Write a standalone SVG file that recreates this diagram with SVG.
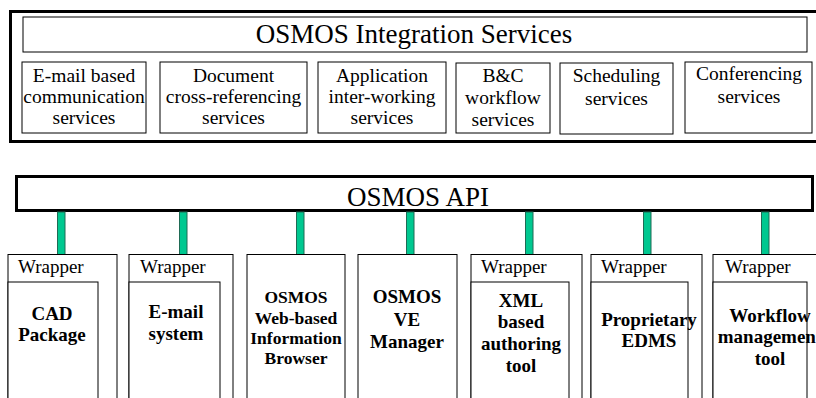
<svg xmlns="http://www.w3.org/2000/svg" width="816" height="398" viewBox="0 0 816 398">
<style>
.thick{fill:#fff;stroke:#000;stroke-width:3}
.box{fill:#fff;stroke:#000;stroke-width:1}
text{font-family:"Liberation Serif",Tinos,"Times New Roman",Times,"Nimbus Roman","Nimbus Roman No9 L",FreeSerif,"DejaVu Serif","Noto Serif",Georgia,serif;fill:#000}
.t{text-anchor:middle}
.s{font-size:19.5px}
.big{font-size:27px}
.w{font-size:19px}
.b{font-weight:bold;font-size:19px}
.conn{fill:#00c890;stroke:#1f6b55;stroke-width:1}
</style>
<rect width="816" height="398" fill="#fff"/>
<g id="integration-services">
<rect class="thick" x="10.5" y="11.5" width="820" height="130"/>
<rect class="box" x="23" y="17" width="784" height="35"/>
<text class="t big" x="414" y="43">OSMOS Integration Services</text>
</g>
<g id="svc-email">
<rect class="box" x="22" y="62" width="124" height="71"/>
<text class="t s" x="84" y="82">E-mail based</text>
<text class="t s" x="84" y="103">communication</text>
<text class="t s" x="84" y="124">services</text>
</g>
<g id="svc-doc">
<rect class="box" x="160" y="62" width="147" height="71"/>
<text class="t s" x="233.5" y="82">Document</text>
<text class="t s" x="233.5" y="103">cross-referencing</text>
<text class="t s" x="233.5" y="124">services</text>
</g>
<g id="svc-app">
<rect class="box" x="318" y="62" width="128" height="71"/>
<text class="t s" x="382" y="82">Application</text>
<text class="t s" x="382" y="103">inter-working</text>
<text class="t s" x="382" y="124">services</text>
</g>
<g id="svc-bc">
<rect class="box" x="456" y="63" width="94" height="70"/>
<text class="t s" x="503" y="82">B&amp;C</text>
<text class="t s" x="503" y="104">workflow</text>
<text class="t s" x="503" y="126">services</text>
</g>
<g id="svc-sched">
<rect class="box" x="560" y="63" width="113" height="71"/>
<text class="t s" x="616.5" y="82">Scheduling</text>
<text class="t s" x="616.5" y="105">services</text>
</g>
<g id="svc-conf">
<rect class="box" x="685" y="62" width="127" height="71"/>
<text class="t s" x="749" y="80">Conferencing</text>
<text class="t s" x="749" y="103">services</text>
</g>
<g id="api">
<rect class="thick" x="16.5" y="176.5" width="796" height="34"/>
<text class="t big" x="418" y="206">OSMOS API</text>
</g>
<g id="connectors">
<rect class="conn" x="57.5" y="212" width="7.5" height="43"/>
<rect class="conn" x="179.5" y="212" width="7.5" height="43"/>
<rect class="conn" x="296.5" y="212" width="7.5" height="43"/>
<rect class="conn" x="406.5" y="212" width="7.5" height="43"/>
<rect class="conn" x="525.5" y="212" width="7.5" height="43"/>
<rect class="conn" x="643.5" y="212" width="7.5" height="43"/>
<rect class="conn" x="761.5" y="212" width="7.5" height="43"/>
</g>
<g id="cad">
<rect class="box" x="8" y="254.5" width="109" height="150"/>
<rect class="box" x="8" y="282" width="90" height="130"/>
<text class="w" x="18" y="273">Wrapper</text>
<text class="t b" x="52" y="320">CAD</text>
<text class="t b" x="52" y="341">Package</text>
</g>
<g id="email-system">
<rect class="box" x="129" y="254.5" width="104" height="150"/>
<rect class="box" x="129" y="282" width="91" height="130"/>
<text class="w" x="140" y="273">Wrapper</text>
<text class="t b" x="176" y="318">E-mail</text>
<text class="t b" x="176" y="340">system</text>
</g>
<g id="browser">
<rect class="box" x="247" y="254.5" width="98" height="150"/>
<text class="t b" style="font-size:17.5px" x="296" y="303">OSMOS</text>
<text class="t b" style="font-size:17.5px" x="296" y="324">Web-based</text>
<text class="t b" style="font-size:17.5px" x="296" y="344">Information</text>
<text class="t b" style="font-size:17.5px" x="296" y="364">Browser</text>
</g>
<g id="ve-manager">
<rect class="box" x="358" y="254.5" width="99" height="150"/>
<text class="t b" x="407" y="303">OSMOS</text>
<text class="t b" x="407" y="326">VE</text>
<text class="t b" x="407" y="348">Manager</text>
</g>
<g id="xml-tool">
<rect class="box" x="471" y="254.5" width="111" height="150"/>
<rect class="box" x="471" y="282" width="98" height="130"/>
<text class="w" x="481" y="273">Wrapper</text>
<text class="t b" x="521" y="307">XML</text>
<text class="t b" x="521" y="328">based</text>
<text class="t b" x="521" y="350">authoring</text>
<text class="t b" x="521" y="372">tool</text>
</g>
<g id="edms">
<rect class="box" x="591" y="254.5" width="111" height="150"/>
<rect class="box" x="591" y="282" width="97" height="130"/>
<text class="w" x="601" y="273">Wrapper</text>
<text class="t b" x="649" y="326">Proprietary</text>
<text class="t b" x="649" y="347">EDMS</text>
</g>
<g id="workflow">
<rect class="box" x="713" y="254.5" width="120" height="150"/>
<rect class="box" x="713" y="282" width="94" height="130"/>
<text class="w" x="725" y="273">Wrapper</text>
<text class="t b" x="770" y="322">Workflow</text>
<text class="t b" x="770" y="343">management</text>
<text class="t b" x="770" y="365">tool</text>
</g>
</svg>
